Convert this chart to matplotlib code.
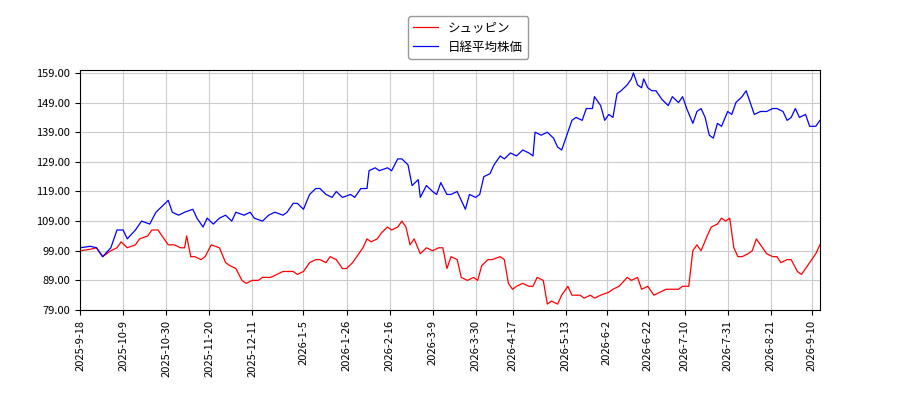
import matplotlib
matplotlib.use("Agg")
import matplotlib.pyplot as plt
import pandas as pd

plt.rcParams['font.family'] = ['Noto Sans CJK JP', 'DejaVu Sans']

start = pd.Timestamp("2025-09-18")
blue_days = [0,5,8,11,15,18,21,23,27,30,34,37,40,43,45,48,51,55,57,60,62,65,68,71,74,76,80,83,85,89,92,95,99,101,104,106,109,112,115,117,120,123,125,128,132,134,137,140,141,144,146,150,152,155,157,160,162,165,166,169,172,174,176,179,181,184,188,190,193,195,197,200,202,205,207,210,213,216,219,221,222,225,228,231,233,235,237,240,242,245,247,250,251,254,256,258,260,262,264,267,269,270,272,274,275,277,279,281,284,287,289,292,294,296,299,301,303,305,307,309,311,313,316,318,320,323,325,327,329,332,335,338,340,343,345,347,349,351,354,356,359,361]
blue_vals = [100,100.5,100,97,100,106,106,103,106,109,108,112,114,116,112,111,112,113,110,107,110,108,110,111,109,112,111,112,110,109,111,112,111,112,115,115,113,118,120,120,118,117,119,117,118,117,120,120,126,127,126,127,126,130,130,128,121,123,117,121,119,118,122,118,118,119,113,118,117,118,124,125,128,131,130,132,131,133,132,131,139,138,139,137,134,133,137,143,144,143,147,147,151,148,143,145,144,152,153,155,157,159,155,154,157,154,153,153,150,148,151,149,151,147,142,146,147,144,138,137,142,141,146,145,149,151,153,149,145,146,146,147,147,146,143,144,147,144,145,141,141,143]
red_days = [0,5,8,11,15,18,20,23,27,29,33,35,38,40,43,46,49,51,52,54,56,59,61,64,68,71,73,76,79,81,84,87,89,93,96,99,101,104,106,109,112,115,117,120,122,125,128,130,133,136,138,140,142,145,147,150,152,155,157,159,161,163,166,169,172,175,177,179,181,184,186,189,192,194,196,199,201,205,207,209,211,213,216,219,221,223,226,228,230,233,235,238,240,244,246,249,251,254,258,260,263,267,269,272,274,277,280,283,286,289,292,294,297,299,301,303,306,308,311,313,315,317,319,321,323,326,328,330,333,335,338,340,342,345,347,350,352,354,356,359,361]
red_vals = [99,99.5,100,97,99,100,102,100,101,103,104,106,106,104,101,101,100,100,104,97,97,96,97,101,100,95,94,93,89,88,89,89,90,90,91,92,92,92,91,92,95,96,96,95,97,96,93,93,95,98,100,103,102,103,105,107,106,107,109,107,101,103,98,100,99,100,100,93,97,96,90,89,90,89,94,96,96,97,96,88,86,87,88,87,87,90,89,81,82,81,84,87,84,84,83,84,83,84,85,86,87,90,89,90,86,87,84,85,86,86,86,87,87,99,101,99,104,107,108,110,109,110,100,97,97,98,99,103,100,98,97,97,95,96,96,92,91,93,95,98,101]
y_ticks = [79,89,99,109,119,129,139,149,159]
tick_labels = ["2025-9-18","2025-10-9","2025-10-30","2025-11-20","2025-12-11","2026-1-5","2026-1-26",
               "2026-2-16","2026-3-9","2026-3-30","2026-4-17","2026-5-13","2026-6-2","2026-6-22",
               "2026-7-10","2026-7-31","2026-8-21","2026-9-10"]
tick_dates = [pd.Timestamp(s) for s in tick_labels]

fig = plt.figure(figsize=(9, 4), dpi=100)
ax = fig.add_axes([0.089, 0.225, 0.822, 0.6])
bd = [start + pd.Timedelta(days=d) for d in blue_days]
rd = [start + pd.Timedelta(days=d) for d in red_days]
ax.plot(rd, red_vals, color='red', lw=0.9, label='シュッピン')
ax.plot(bd, blue_vals, color='blue', lw=0.9, label='日経平均株価')
ax.set_ylim(79, 160)
ax.set_yticks(y_ticks)
ax.set_yticklabels([f"{v:.2f}" for v in y_ticks], fontsize=8)
ax.set_xlim(start, start + pd.Timedelta(days=361))
ax.set_xticks(tick_dates)
ax.set_xticklabels(tick_labels, rotation=90, fontsize=8)
ax.grid(True, color='#cccccc', lw=0.8)
fig.legend(loc='upper center', bbox_to_anchor=(0.52, 0.975), fontsize=9, framealpha=1, edgecolor='#999999')
fig.savefig("out.png")
